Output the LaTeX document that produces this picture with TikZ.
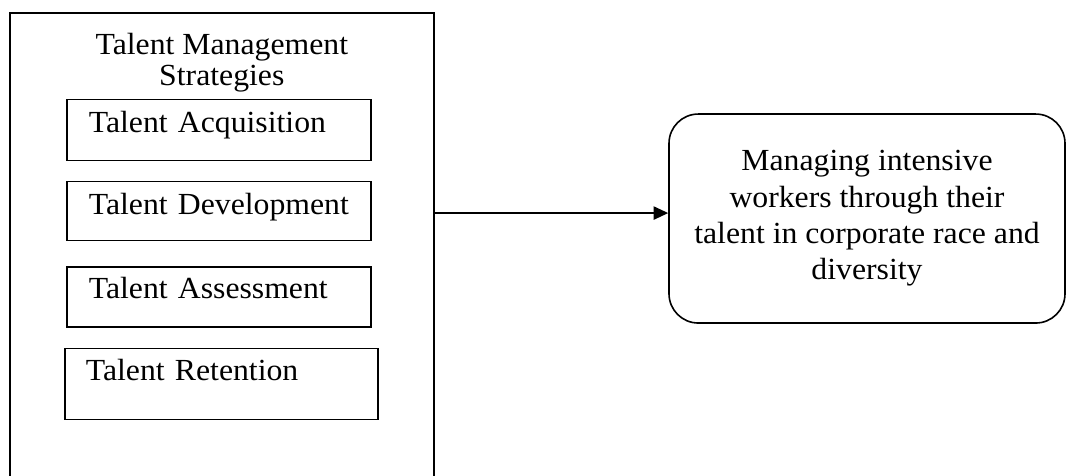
\documentclass[tikz,border=0pt]{standalone}
\usepackage{fontspec}
\setmainfont{Liberation Serif}[FakeStretch=1.035]
\usetikzlibrary{arrows.meta,positioning}

\begin{document}
\begin{tikzpicture}[>={Triangle[length=11pt,width=10pt]},line width=1.2pt,
  heading/.style={align=center,inner sep=0pt,font=\fontsize{23}{23.25}\selectfont},
  strategy/.style={draw,align=left,inner ysep=0pt,inner xsep=11.5pt,text width=205pt,
    text height=24.75pt,execute at begin node={\hspace*{5pt}},font=\fontsize{23}{26}\selectfont},
  result/.style={draw,rounded corners=22pt,align=center,minimum width=297pt,
    minimum height=156.75pt,font=\fontsize{23}{27.2}\selectfont}]

\path[use as bounding box,clip] (0,0) rectangle (800.25pt,-356.25pt);

\node[draw,inner sep=0pt,minimum width=318pt,minimum height=380pt,anchor=north west] (outer) at (6.75pt,-9pt) {};
\node[heading] (title) [below=15.3pt of outer.north] {Talent Management\\Strategies};

	\node[strategy,text depth=21pt]    (acq)    [below=4.5pt of title,xshift=-2.25pt] {Talent Acquisition};
	\node[strategy,text depth=19.5pt]  (dev)    [below=14.25pt of acq]                 {Talent Development};
	\node[strategy,text height=24pt,text depth=21pt]  (assess) [below=18.75pt of dev]  {Talent Assessment};
	\node[strategy,text height=24pt,text depth=29.25pt,text width=213.25pt,inner xsep=10.75pt]
	      (retain) [below=15pt of assess,xshift=1.9pt]                                 {Talent Retention};

\node[result] (result) at (650.25pt,-163.9pt) {Managing intensive\\workers through their\\talent in corporate race and\\diversity};

\coordinate (tip) at ([yshift=4.1pt]result.west);
\draw[->] (outer.east |- tip) -- (tip);

\end{tikzpicture}
\end{document}
